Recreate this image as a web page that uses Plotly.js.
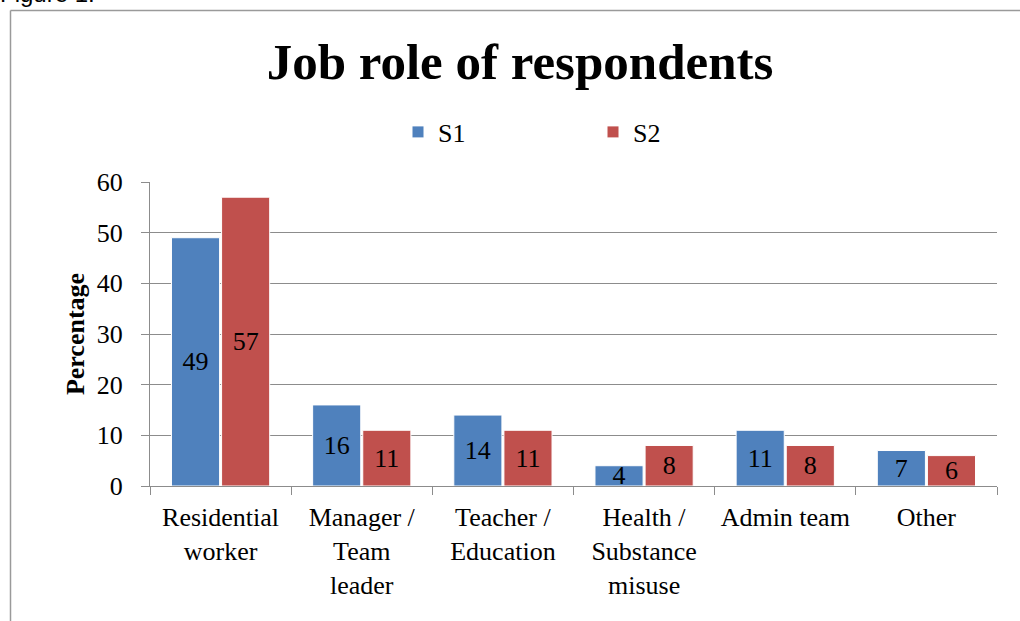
<!DOCTYPE html>
<html>
<head>
<meta charset="utf-8">
<script src="https://cdn.plot.ly/plotly-3.0.1.min.js"></script>
<style>html,body{margin:0;padding:0;background:#fff;}#chart{width:1020px;height:621px;}</style>
</head>
<body>
<div id="chart"></div>
<script>
const categories = ["Residential<br>worker", "Manager /<br>Team<br>leader", "Teacher /<br>Education", "Health /<br>Substance<br>misuse", "Admin team", "Other"];
const s1Values = [49, 16, 14, 4, 11, 7];
const s2Values = [57, 11, 11, 8, 8, 6];
const seriesNames = ["S1", "S2"];
const yTicks = [0, 10, 20, 30, 40, 50, 60];

const W = 1020, H = 621;
const mL = 150, mR = 23, mT = 182, mB = 135;
const pw = W - mL - mR, ph = H - mT - mB;
const px = x => (x - mL) / pw;
const py = y => (H - mB - y) / ph;

const serif = "Liberation Serif, Times New Roman, serif";
const grid = "#8c8c8c";

function barTrace(name, vals, color) {
  return {
    type: "bar",
    name: name,
    x: categories,
    y: vals,
    text: vals.map(String),
    textposition: "inside",
    insidetextanchor: "middle",
    textangle: 0,
    constraintext: "none",
    textfont: {family: serif, size: 26, color: "#000"},
    marker: {color: color, line: {color: "#ffffff", width: 1}},
    hoverinfo: "x+y+name"
  };
}

const data = [
  barTrace(seriesNames[0], s1Values, "#4F81BD"),
  barTrace(seriesNames[1], s2Values, "#C0504D")
];

const layout = {
  width: W, height: H,
  margin: {l: mL, r: mR, t: mT, b: mB, pad: 0},
  paper_bgcolor: "#ffffff",
  plot_bgcolor: "#ffffff",
  font: {family: serif, color: "#000"},
  title: {
    text: "<b>Job role of respondents</b>",
    font: {family: serif, size: 51, color: "#000"},
    xref: "paper", x: px(520), xanchor: "center",
    yref: "container", y: 1 - 61 / H, yanchor: "middle"
  },
  barmode: "group",
  bargap: 0.29,
  bargroupgap: 0.04,
  showlegend: true,
  legend: {
    orientation: "h",
    x: px(398), xanchor: "left",
    y: py(132), yanchor: "middle",
    font: {family: serif, size: 26, color: "#000"},
    entrywidthmode: "pixels",
    entrywidth: 150,
    traceorder: "normal",
    bgcolor: "rgba(0,0,0,0)"
  },
  xaxis: {
    type: "category",
    tickson: "boundaries",
    ticks: "outside",
    ticklen: 8,
    tickcolor: grid,
    tickwidth: 1,
    showline: true,
    linecolor: grid,
    linewidth: 1,
    showgrid: false,
    tickfont: {family: serif, size: 26, color: "#000"},
    ticklabelstandoff: 8,
    fixedrange: true
  },
  yaxis: {
    range: [0, 60],
    tickvals: yTicks,
    ticktext: yTicks.map(String),
    ticks: "outside",
    ticklen: 8,
    tickcolor: grid,
    tickwidth: 1,
    showline: true,
    linecolor: grid,
    linewidth: 1,
    showgrid: true,
    gridcolor: grid,
    gridwidth: 1,
    zeroline: false,
    tickfont: {family: serif, size: 26, color: "#000"},
    ticklabelstandoff: 13,
    title: {text: "<b>Percentage</b>", font: {family: serif, size: 26, color: "#000"}, standoff: 4},
    fixedrange: true
  },
  shapes: [
    {type: "line", xref: "paper", yref: "paper", x0: px(10.5), x1: px(10.5), y0: py(10.5), y1: py(H + 5), line: {color: "#9a9a9a", width: 1.5}},
    {type: "line", xref: "paper", yref: "paper", x0: px(10.5), x1: px(W + 5), y0: py(10.5), y1: py(10.5), line: {color: "#9a9a9a", width: 1.5}}
  ],
  annotations: [
    {text: "Figure 1.", xref: "paper", yref: "paper", x: px(-2), y: py(9), xanchor: "left", yanchor: "bottom",
     showarrow: false, font: {family: "Liberation Sans, Arial, sans-serif", size: 24, color: "#000"}}
  ]
};

Plotly.newPlot("chart", data, layout, {displayModeBar: false, staticPlot: false, responsive: false});
</script>
</body>
</html>
